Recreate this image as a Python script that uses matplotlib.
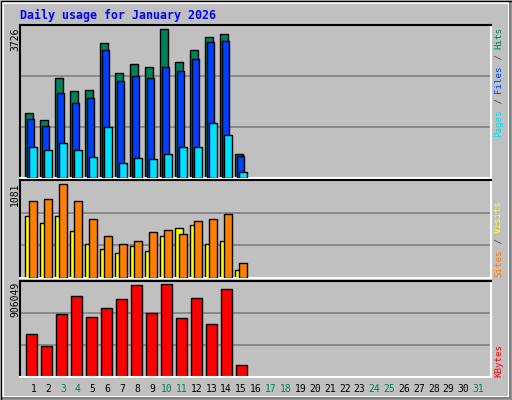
import matplotlib
matplotlib.use("Agg")
import matplotlib.pyplot as plt
from matplotlib.patches import Rectangle
import numpy as np

days = list(range(1, 32))
hits  = [1629,1452,2514,2185,2210,3374,2640,2868,2792,3726,2918,3197,3525,3601,592]
files = [1477,1300,2134,1882,2008,3197,2438,2564,2514,2792,2691,2994,3399,3424,541]
pages = [769,693,870,693,516,1275,364,491,465,592,769,769,1376,1072,137]
sites = [893,916,1081,893,683,484,390,425,530,554,507,659,683,741,168]
visits = [718,636,718,542,390,332,285,367,308,484,577,612,390,425,86]
kbytes = [420000,301000,609000,787000,589000,668000,757000,896000,628000,906049,579000,767000,519000,857000,112000]
weekend = [3,4,10,11,17,18,24,25,31]
title = "Daily usage for January 2026"

W, H = 512, 400
fig = plt.figure(figsize=(W/100, H/100), dpi=100, facecolor="#C0C0C0")
MONO = "DejaVu Sans Mono"

# frame / bevel
bg = fig.add_axes([0, 0, 1, 1], zorder=-5)
bg.set_xlim(0, W); bg.set_ylim(H, 0); bg.axis("off")
bg.add_patch(Rectangle((0, 0), W, H, facecolor="#C0C0C0", edgecolor="none"))
bg.add_patch(Rectangle((1, 1), W-2, H-2, facecolor="#808080", edgecolor="none"))
bg.add_patch(Rectangle((1, 1), W-4, H-4, facecolor="white", edgecolor="none"))
bg.add_patch(Rectangle((4, 4), W-8, H-8, facecolor="#C0C0C0", edgecolor="none"))
bg.add_patch(Rectangle((0.5, 0.5), W-1, H-1, facecolor="none", edgecolor="black", lw=1))

pitch = 15.0
xl = (1 - (31 - 20.3)/pitch, 1 + (491 - 31)/pitch)

def mkax(top, bot, ymax):
    ax = fig.add_axes([20.3/W, 1-bot/H, 470.7/W, (bot-top)/H])
    ax.set_facecolor("#C0C0C0")
    ax.set_xlim(*xl); ax.set_ylim(0, ymax)
    for f in (1/3, 2/3):
        ax.axhline(ymax*f, color="#808080", lw=1.2, zorder=0)
    ax.set_xticks([]); ax.set_yticks([])
    ax.spines["top"].set_color("black"); ax.spines["left"].set_color("black")
    ax.spines["bottom"].set_color("white"); ax.spines["right"].set_color("white")
    for s in ax.spines.values(): s.set_linewidth(1.5)
    return ax

n = len(hits)
x = np.arange(1, n+1)
a1 = mkax(25.3, 177.5, 3726/0.973)
a1.bar(x-0.38, hits, 0.49, align="edge", color="#00805C", edgecolor="black", lw=1, zorder=2)
a1.bar(x-0.267, files, 0.49, align="edge", color="#0040FF", edgecolor="black", lw=1, zorder=3)
a1.bar(x-0.113, pages, 0.49, align="edge", color="#00E0FF", edgecolor="black", lw=1, zorder=4)

a2 = mkax(180.3, 277.5, 1081/0.958)
a2.bar(x-0.38, visits, 0.49, align="edge", color="#FFFF00", edgecolor="black", lw=1, zorder=2)
a2.bar(x-0.113, sites, 0.49, align="edge", color="#FF8000", edgecolor="black", lw=1, zorder=3)

a3 = mkax(280.5, 376.5, 906049/0.961)
a3.bar(x-0.31, kbytes, 0.69, align="edge", color="#FF0000", edgecolor="black", lw=1, zorder=2)

def px(xp, yp):
    return xp/W, 1-yp/H

fig.text(*px(19.5, 15), title, color="#0000FF", fontsize=8.4, fontweight="bold",
         family=MONO, ha="left", va="center")

for d in days:
    xp = 33.3 + (d-1)*14.83
    fig.text(*px(xp, 389.5), str(d), fontsize=7, family=MONO, ha="center", va="center",
             color="#00805C" if d in weekend else "black")

for lab, ytop in (("3726", 27.5), ("1081", 182), ("906049", 282)):
    fig.text(*px(15, ytop), lab, rotation=90, fontsize=7, family=MONO,
             ha="center", va="top", color="black")

cw = 0.602*6.6*100/72
def vlabel(parts, ybottom):
    y = ybottom
    for t, c in parts:
        fig.text(*px(498.5, y), t, rotation=90, rotation_mode="anchor", fontsize=6.6,
                 family=MONO, ha="left", va="center", color=c)
        y -= cw*len(t)

vlabel([("Pages", "#00E0FF"), (" / ", "#404040"), ("Files", "#0040FF"),
        (" / ", "#404040"), ("Hits", "#00805C")], 137)
vlabel([("Sites", "#FF8000"), (" / ", "#404040"), ("Visits", "#FFFF00")], 277)
vlabel([("KBytes", "#FF0000")], 377)

fig.savefig("out.png", dpi=100, facecolor="#C0C0C0")
